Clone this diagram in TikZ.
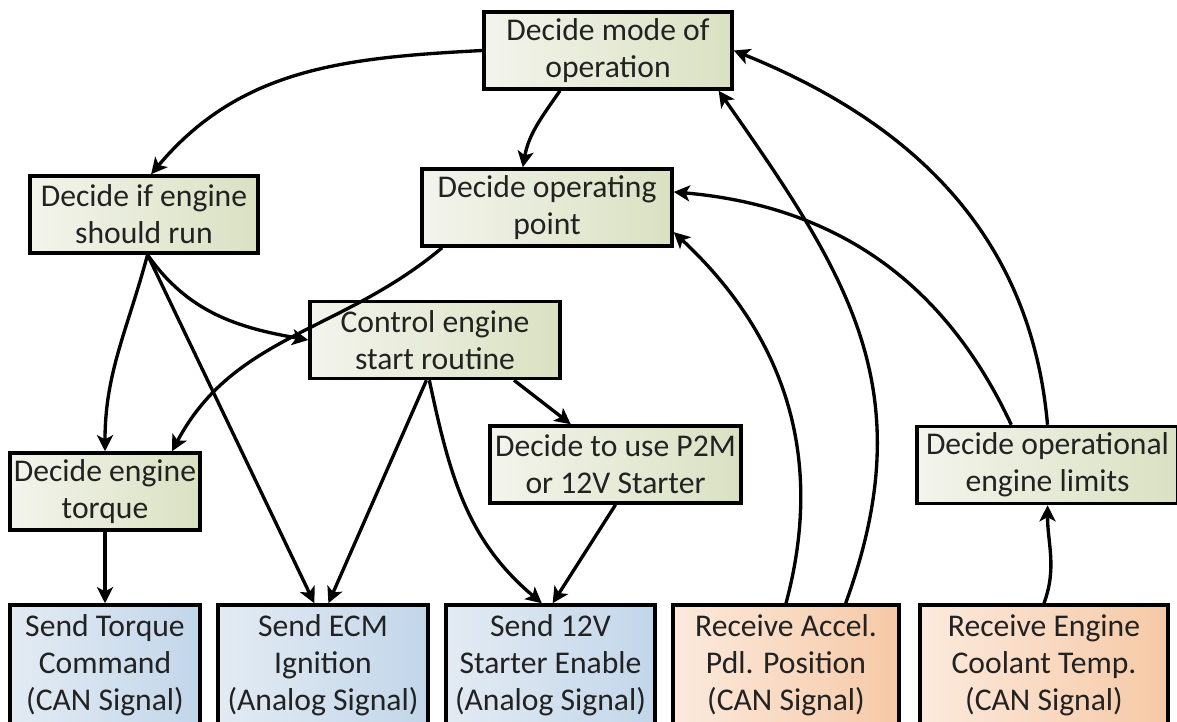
\documentclass[tikz,border=0pt]{standalone}
\usepackage{fontspec}
\setmainfont{Carlito}
\usetikzlibrary{arrows.meta}
\definecolor{sageL}{HTML}{F3F4EC}
\definecolor{sageR}{HTML}{DAE1C2}
\definecolor{skyL}{HTML}{E3EBF3}
\definecolor{skyR}{HTML}{C2D6EA}
\definecolor{peachL}{HTML}{FCEADD}
\definecolor{peachR}{HTML}{F6C9A6}
\definecolor{ink}{HTML}{222222}
\tikzset{
  box/.style={draw=black,line width=2pt,align=center,inner sep=1pt,
    minimum height=15.4mm,left color=sageL,right color=sageR},
  sendbox/.style={box,minimum height=24mm,left color=skyL,right color=skyR},
  recvbox/.style={box,minimum height=24mm,left color=peachL,right color=peachR},
  flow/.style={-{Stealth[length=3.2mm,width=3.2mm,inset=0.8mm]},line width=1.9pt,draw=black}
}

\begin{document}
\begin{tikzpicture}[x=0.2mm,y=0.2mm,font=\fontsize{18}{21}\selectfont,text=ink]
  \useasboundingbox (0,0) rectangle (1177,-721);
  \node[box,minimum width=49.6mm] (mode) at (608,-50.5) {Decide mode of\\operation};
  \node[box,minimum width=50mm] (op) at (547,-207.5) {Decide operating\\point};
  \node[box,minimum width=45.6mm] (run) at (144,-214.5) {Decide if engine\\should run};
  \node[box,minimum width=50mm] (control) at (435,-340) {Control engine\\start routine};
  \node[box,minimum width=50.2mm] (p2m) at (615.5,-464.5) {Decide to use P2M\\or 12V Starter};
  \node[box,minimum width=38mm] (torque) at (105,-491.5) {Decide engine\\torque};
  \node[box,minimum width=52.2mm] (limits) at (1047.5,-465) {Decide operational\\engine limits};

  \node[sendbox,minimum width=38mm] (sendtq) at (105,-665) {Send Torque\\Command\\(CAN Signal)};
  \node[sendbox,minimum width=42mm] (ecm) at (323,-665) {Send ECM\\Ignition\\(Analog Signal)};
  \node[sendbox,minimum width=41.8mm] (v12) at (550.5,-665) {Send 12V\\Starter Enable\\(Analog Signal)};
  \node[recvbox,minimum width=45.2mm] (accel) at (786,-665) {Receive Accel.\\Pdl. Position\\(CAN Signal)};
  \node[recvbox,minimum width=49.6mm] (coolant) at (1044,-665) {Receive Engine\\Coolant Temp.\\(CAN Signal)};

  \draw[flow] (mode.west) to[out=183,in=50] (run.80);
  \draw[flow] (mode.220) to[out=235,in=80] (op.121);
  \draw[flow] (run.275) to[out=255,in=90] (torque.north);
  \draw[flow] (run.275) -- (ecm.98);
  \draw[flow] (run.275) to[out=-55,in=170] (control.west);
  \draw[flow] (op.201) to[out=220,in=62] (torque.31);
  \draw[flow] (control.258) -- (ecm.85);
  \draw[flow] (control.262) to[out=-78,in=140] (v12.98);
  \draw[flow] (control.-27) -- (p2m.138);
  \draw[flow] (p2m.south) -- (v12.88);
  \draw[flow] (torque.south) -- (sendtq.north);
  \draw[flow] (accel.north) to[out=75,in=-43] (op.-11);
  \draw[flow] (accel.46) to[out=70,in=-55,looseness=1.1] (mode.-20);
  \draw[flow] (limits.132) to[out=115,in=-5] (op.7);
  \draw[flow] (limits.north) to[out=95,in=-22] (mode.east);
  \draw[flow] (coolant.north) to[out=70,in=-90] (limits.south);
\end{tikzpicture}
\end{document}
